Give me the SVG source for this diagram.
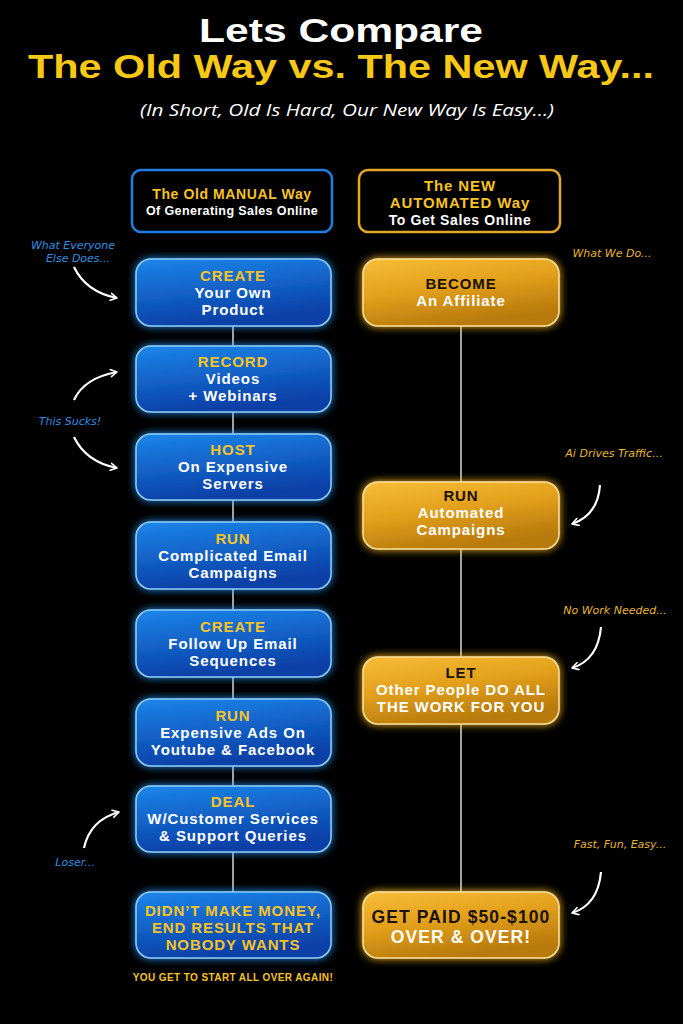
<svg xmlns="http://www.w3.org/2000/svg" width="683" height="1024" viewBox="0 0 683 1024">
<defs>
<linearGradient id="gBlue" x1="0" y1="0" x2="0.3" y2="1">
<stop offset="0" stop-color="#1c86ea"/><stop offset="1" stop-color="#0a3fa6"/>
</linearGradient>
<linearGradient id="gGold" x1="0" y1="0" x2="0.4" y2="1">
<stop offset="0" stop-color="#f8bd38"/><stop offset="0.5" stop-color="#e3a01c"/><stop offset="1" stop-color="#b87a0c"/>
</linearGradient>
<filter id="glowB" x="-20%" y="-30%" width="140%" height="160%">
<feGaussianBlur in="SourceAlpha" stdDeviation="4" result="b"/>
<feFlood flood-color="#2a9cff" flood-opacity="0.9"/>
<feComposite in2="b" operator="in" result="g"/>
<feMerge><feMergeNode in="g"/><feMergeNode in="SourceGraphic"/></feMerge>
</filter>
<filter id="glowG" x="-20%" y="-30%" width="140%" height="160%">
<feGaussianBlur in="SourceAlpha" stdDeviation="4.5" result="b"/>
<feFlood flood-color="#ffbb22" flood-opacity="0.95"/>
<feComposite in2="b" operator="in" result="g"/>
<feMerge><feMergeNode in="g"/><feMergeNode in="SourceGraphic"/></feMerge>
</filter>
<marker id="ah" viewBox="0 0 10 10" refX="8" refY="5" markerWidth="9" markerHeight="9" orient="auto" markerUnits="userSpaceOnUse">
<path d="M1,1 L8,5 L1,9" fill="none" stroke="#fff" stroke-width="1.8" stroke-linecap="round" stroke-linejoin="round"/>
</marker>
<style>
.bn{fill:url(#gBlue);stroke:#8fd0ff;stroke-width:1.5;filter:url(#glowB)}
.gn{fill:url(#gGold);stroke:#ffe39a;stroke-width:1.5;filter:url(#glowG)}
.t{font-family:"Liberation Sans","Arial",sans-serif;font-weight:700;font-size:15px;letter-spacing:0.9px;text-anchor:middle}
.y{fill:#f7c325}.w{fill:#fff}.k{fill:#1a1208}
.hand{font-family:"DejaVu Sans","Liberation Sans",sans-serif;font-style:italic;font-size:11px;text-anchor:middle}
.hb{fill:#2f8fe0}.hg{fill:#e8b530}
.arr{fill:none;stroke:#fff;stroke-width:2.2;marker-end:url(#ah)}
.ln{stroke:#d8d8d8;stroke-width:1.5}
.ttl{font-family:"Liberation Sans","Arial",sans-serif;font-weight:700;font-size:33px;text-anchor:middle}
</style>
</defs>
<rect width="683" height="1024" fill="#000"/>

<g id="title">
<text class="ttl" x="341" y="42" fill="#fff" textLength="284" lengthAdjust="spacingAndGlyphs">Lets Compare</text>
<text class="ttl" x="341" y="78" fill="#f7c816" textLength="626" lengthAdjust="spacingAndGlyphs">The Old Way vs. The New Way...</text>
<text x="347" y="116" style="font-family:'Open Sans','Liberation Sans',sans-serif;font-style:italic;font-size:17px" fill="#fff" text-anchor="middle" textLength="414" lengthAdjust="spacingAndGlyphs">(In Short, Old Is Hard, Our New Way Is Easy...)</text>
</g>

<g id="connectors">
<line class="ln" x1="233" y1="326" x2="233" y2="892"/>
<line class="ln" x1="461" y1="326" x2="461" y2="892"/>
<path class="arr" d="M74,267 Q86,292 117,298"/>
<path class="arr" d="M74,400 Q84,378 117,372"/>
<path class="arr" d="M74,437 Q86,462 117,468"/>
<path class="arr" d="M84,848 Q90,820 119,812"/>
<path class="arr" d="M600,485 Q598,515 572,524"/>
<path class="arr" d="M601,627 Q598,660 572,668"/>
<path class="arr" d="M601,872 Q598,905 572,913"/>
</g>

<g id="header-old">
<rect x="132" y="170" width="200" height="62" rx="9" fill="#000" stroke="#1e7fe0" stroke-width="2.5"/>
<text class="t y" x="232" y="199" style="font-size:14px;letter-spacing:0.6px">The Old MANUAL Way</text>
<text class="t w" x="232" y="215" style="font-size:12.5px;letter-spacing:0.4px">Of Generating Sales Online</text>
</g>
<g id="header-new">
<rect x="359" y="170" width="201" height="62" rx="9" fill="#000" stroke="#e6a82a" stroke-width="2.5"/>
<text class="t y" x="460" y="191">The NEW</text>
<text class="t y" x="460" y="208">AUTOMATED Way</text>
<text class="t w" x="460" y="225" style="font-size:14px;letter-spacing:0.6px">To Get Sales Online</text>
</g>

<g id="old-create">
<rect class="bn" x="136" y="259" width="195" height="67" rx="15"/>
<text class="t y" x="233" y="281">CREATE</text>
<text class="t w" x="233" y="298">Your Own</text>
<text class="t w" x="233" y="315">Product</text>
</g>
<g id="old-record">
<rect class="bn" x="136" y="346" width="195" height="66" rx="15"/>
<text class="t y" x="233" y="367">RECORD</text>
<text class="t w" x="233" y="384">Videos</text>
<text class="t w" x="233" y="401">+ Webinars</text>
</g>
<g id="old-host">
<rect class="bn" x="136" y="434" width="195" height="66" rx="15"/>
<text class="t y" x="233" y="455">HOST</text>
<text class="t w" x="233" y="472">On Expensive</text>
<text class="t w" x="233" y="489">Servers</text>
</g>
<g id="old-run-email">
<rect class="bn" x="136" y="522" width="195" height="67" rx="15"/>
<text class="t y" x="233" y="544">RUN</text>
<text class="t w" x="233" y="561">Complicated Email</text>
<text class="t w" x="233" y="578">Campaigns</text>
</g>
<g id="old-followup">
<rect class="bn" x="136" y="610" width="195" height="67" rx="15"/>
<text class="t y" x="233" y="632">CREATE</text>
<text class="t w" x="233" y="649">Follow Up Email</text>
<text class="t w" x="233" y="666">Sequences</text>
</g>
<g id="old-ads">
<rect class="bn" x="136" y="699" width="195" height="67" rx="15"/>
<text class="t y" x="233" y="721">RUN</text>
<text class="t w" x="233" y="738">Expensive Ads On</text>
<text class="t w" x="233" y="755">Youtube &amp; Facebook</text>
</g>
<g id="old-deal">
<rect class="bn" x="136" y="786" width="195" height="66" rx="15"/>
<text class="t y" x="233" y="807">DEAL</text>
<text class="t w" x="233" y="824">W/Customer Services</text>
<text class="t w" x="233" y="841">&amp; Support Queries</text>
</g>
<g id="old-result">
<rect class="bn" x="136" y="892" width="195" height="66" rx="15"/>
<text class="t y" x="233" y="916">DIDN’T MAKE MONEY,</text>
<text class="t y" x="233" y="933">END RESULTS THAT</text>
<text class="t y" x="233" y="950">NOBODY WANTS</text>
</g>
<text id="footer" class="t y" x="233" y="981" style="font-size:10px;letter-spacing:0.4px">YOU GET TO START ALL OVER AGAIN!</text>

<g id="new-become">
<rect class="gn" x="363" y="259" width="196" height="67" rx="15"/>
<text class="t k" x="461" y="289">BECOME</text>
<text class="t w" x="461" y="306">An Affiliate</text>
</g>
<g id="new-run">
<rect class="gn" x="363" y="482" width="196" height="67" rx="15"/>
<text class="t k" x="461" y="501">RUN</text>
<text class="t w" x="461" y="518">Automated</text>
<text class="t w" x="461" y="535">Campaigns</text>
</g>
<g id="new-let">
<rect class="gn" x="363" y="657" width="196" height="67" rx="15"/>
<text class="t k" x="461" y="678">LET</text>
<text class="t w" x="461" y="695">Other People DO ALL</text>
<text class="t w" x="461" y="712">THE WORK FOR YOU</text>
</g>
<g id="new-paid">
<rect class="gn" x="363" y="892" width="196" height="66" rx="15"/>
<text class="t k" x="461" y="923" style="font-size:17.5px;letter-spacing:1.1px">GET PAID $50-$100</text>
<text class="t w" x="461" y="943" style="font-size:17.5px;letter-spacing:1.1px">OVER &amp; OVER!</text>
</g>

<g id="notes">
<text class="hand hb" x="73" y="249">What Everyone</text>
<text class="hand hb" x="78" y="262">Else Does...</text>
<text class="hand hb" x="70" y="425">This Sucks!</text>
<text class="hand hb" x="75" y="866">Loser...</text>
<text class="hand hg" x="612" y="257">What We Do...</text>
<text class="hand hg" x="614" y="457">Ai Drives Traffic...</text>
<text class="hand hg" x="615" y="614">No Work Needed...</text>
<text class="hand hg" x="620" y="848">Fast, Fun, Easy...</text>
</g>
</svg>
